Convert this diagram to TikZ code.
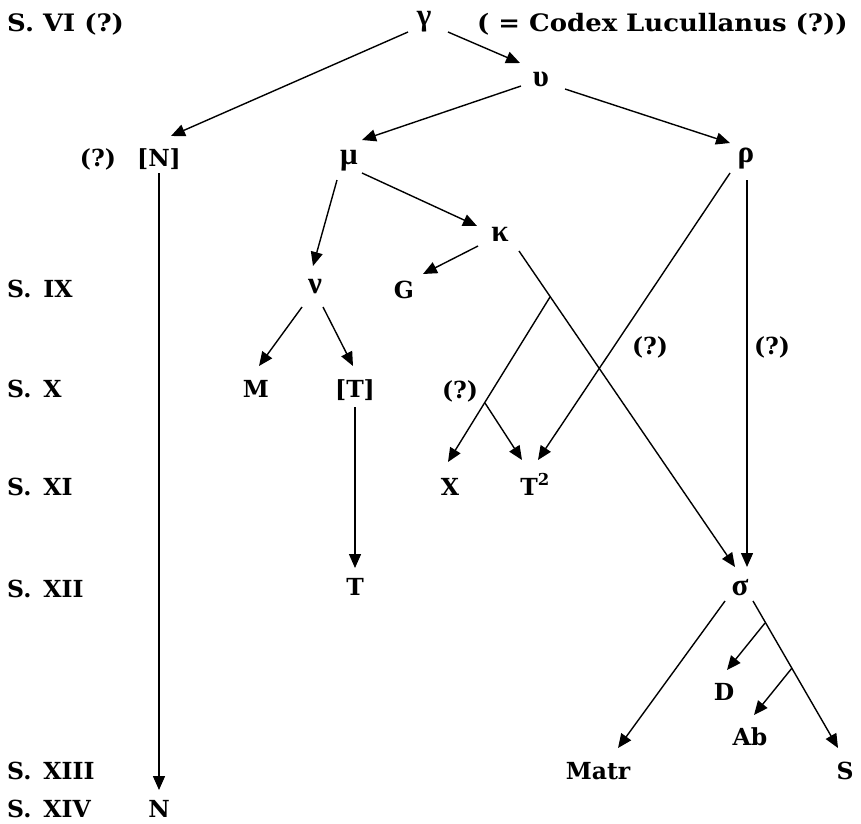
\documentclass[tikz,border=0pt]{standalone}
\usepackage{fontspec}
\setmainfont{DejaVu Serif}
\newfontfamily\grkfont{Liberation Serif}
\usetikzlibrary{arrows.meta,calc}
\begin{document}
\begin{tikzpicture}[x=1pt,y=-1pt,
  lab/.style={inner sep=0pt, font=\fontsize{23.5}{26}\selectfont\bfseries},
  top/.style={inner sep=0pt, font=\fontsize{24}{26}\selectfont\bfseries},
  grk/.style={inner sep=0pt, font=\grkfont\fontsize{31}{33}\selectfont\bfseries},
  arr/.style={line width=1.4pt, -{Triangle[length=14pt,width=12pt]}}]
\useasboundingbox (0,0) rectangle (861,823);
% century labels
\node[top,anchor=base west] (s6) at (7,31) {\scalebox{1.08}[1]{S. VI (?)}};
\node[lab,anchor=base west] (s9) at (7,297) {S.\hspace{12pt}IX};
\node[lab,anchor=base west] (s10) at (7,397) {S.\hspace{12pt}X};
\node[lab,anchor=base west] (s11) at (7,495) {S.\hspace{12pt}XI};
\node[lab,anchor=base west] (s12) at (7,597) {S.\hspace{12pt}XII};
\node[lab,anchor=base west] (s13) at (7,779) {S.\hspace{12pt}XIII};
\node[lab,anchor=base west] (s14) at (7,817) {S.\hspace{12pt}XIV};
% stemma nodes
\node[top,anchor=base west] (codex) at (477,31) {\scalebox{1.08}[1]{( = Codex Lucullanus (?))}};
\node[grk] (g) at (424,22) {γ};
\node[grk] (u) at (541,79) {υ};
\node[lab,anchor=base] (q1) at (98,166) {(?)};
\node[lab,anchor=base] (Nb) at (159,166) {[N]};
\node[grk] (mu) at (349,161) {μ};
\node[grk] (rho) at (746,159) {ρ};
\node[grk] (k) at (500,234) {κ};
\node[grk] (nu) at (315,287) {ν};
\node[lab,anchor=base] (G) at (404,298) {G};
\node[lab] (q2) at (650,347) {(?)};
\node[lab] (q3) at (772,347) {(?)};
\node[lab,anchor=base] (M) at (256,397) {M};
\node[lab,anchor=base] (Tb) at (355,397) {[T]};
\node[lab] (q4) at (460,391) {(?)};
\node[lab,anchor=base] (X) at (450,495) {X};
\node[lab,anchor=base] (T2) at (535,495) {T\textsuperscript{2}};
\node[lab,anchor=base] (T) at (355,595) {T};
\node[grk] (sig) at (740,588) {σ};
\node[lab,anchor=base] (D) at (724,700) {D};
\node[lab,anchor=base] (Ab) at (750,745) {Ab};
\node[lab,anchor=base] (Matr) at (598,779) {Matr};
\node[lab,anchor=base] (S) at (845,779) {S};
\node[lab,anchor=base] (N) at (159,817) {N};
% junctions
\coordinate (b1) at (550,297);
\coordinate (b2) at (485,403);
\coordinate (b3) at (765,623);
\coordinate (b4) at (792,668);
% connectors
\draw[arr] ($(g)+(-16,10)$) -- ($(Nb.base)+(12,-30)$);
\draw[arr] ($(g)+(24,10)$) -- ($(u)+(-21,-16)$);
\draw[arr] ($(u)+(-20,7)$) -- ($(mu)+(13,-21)$);
\draw[arr] ($(u)+(24,10)$) -- ($(rho)+(-16,-16)$);
\draw[arr] ($(Nb.base)+(0,7)$) -- ($(N.base)+(0,-27)$);
\draw[arr] ($(mu)+(-12,19)$) -- ($(nu)+(-2,-21)$);
\draw[arr] ($(mu)+(13,12)$) -- ($(k)+(-23,-8)$);
\draw[arr] ($(k)+(-22,12)$) -- ($(G.base)+(19,-24)$);
\draw[arr] ($(nu)+(-13,20)$) -- ($(M.base)+(3,-31)$);
\draw[arr] ($(nu)+(8,20)$) -- ($(Tb.base)+(-2,-31)$);
\draw[arr] ($(Tb.base)+(0,10)$) -- ($(T.base)+(0,-27)$);
\draw[arr] ($(k)+(19,17)$) -- ($(sig)+(-5,-21)$);
\draw[arr] (b1) -- ($(X.base)+(-2,-33)$);
\draw[arr] (b2) -- ($(T2.base)+(-13,-35)$);
\draw[arr] ($(rho)+(-16,14)$) -- ($(T2.base)+(3,-35)$);
\draw[arr] ($(rho)+(1,21)$) -- ($(sig)+(7,-21)$);
\draw[arr] ($(sig)+(-15,13)$) -- ($(Matr.base)+(20,-31)$);
\draw[arr] ($(sig)+(13,13)$) -- ($(S.base)+(-7,-31)$);
\draw[arr] (b3) -- ($(D.base)+(3,-30)$);
\draw[arr] (b4) -- ($(Ab.base)+(4,-30)$);
\end{tikzpicture}
\end{document}
